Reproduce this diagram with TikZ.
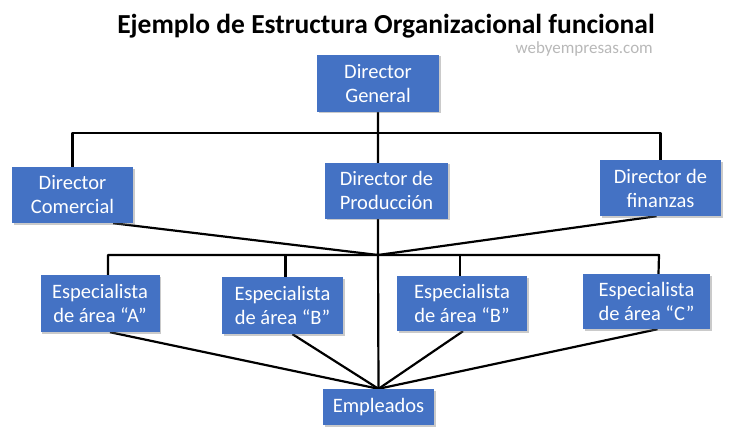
\documentclass[tikz,border=0pt]{standalone}
\usepackage{fontspec}
\setmainfont{Carlito}
\usetikzlibrary{shadows,backgrounds}
\definecolor{boxblue}{HTML}{4472C4}
\tikzset{
  orgbox/.style={rectangle, fill=boxblue, text=white, align=center, inner sep=2pt,
    font=\fontsize{20.5}{24}\selectfont,
    drop shadow={shadow xshift=1.5pt, shadow yshift=-1.5pt, opacity=0.35, fill=black!60}},
  link/.style={draw=black, line width=2.2pt, line join=round}
}
\begin{document}
\begin{tikzpicture}[x=1pt,y=-1pt]
\useasboundingbox (0,0) rectangle (738,433);
\node[anchor=base, font=\fontsize{27.5}{32}\selectfont\bfseries, inner sep=0pt] (title) at (386,34) {Ejemplo de Estructura Organizacional funcional};
\node[anchor=base east, text=black!28, font=\fontsize{17}{19}\selectfont, inner sep=0pt] (wm) at (653,54) {webyempresas.com};

\node[orgbox, minimum width=122, minimum height=57] (dg) at (378,83.5) {Director\\General};
\node[orgbox, minimum width=121, minimum height=56] (com) at (72.5,195) {Director\\Comercial};
\node[orgbox, minimum width=123, minimum height=56] (prod) at (386.5,190.5) {Director de\\Producción};
\node[orgbox, minimum width=121, minimum height=56] (fin) at (660.5,188) {Director de\\finanzas};
\node[orgbox, minimum width=119, minimum height=57] (escA) at (100,303.5) {Especialista\\de área “A”};
\node[orgbox, minimum width=121, minimum height=57] (escB) at (282.5,305.5) {Especialista\\de área “B”};
\node[orgbox, minimum width=130, minimum height=55] (escBB) at (462,303.5) {Especialista\\de área “B”};
\node[orgbox, minimum width=127, minimum height=55] (escC) at (646.5,301.5) {Especialista\\de área “C”};
\node[orgbox, minimum width=111, minimum height=36] (emp) at (378.5,407) {Empleados};

\coordinate (j1) at (378,133);
\coordinate (j2) at (378,255);
\coordinate (busR) at (659,255);

\begin{pgfonlayer}{background}
\draw[link] (dg.south) -- (j1) -- (j2) -- (emp.north);
\draw[link] (com.north) |- (j1) -| (fin.north);
\draw[link] ([xshift=-20]com.south east) -- (j2) -- ([xshift=-4]fin.south);
\draw[link] ([xshift=8]escA.north) |- (busR) -- ([xshift=12]escC.north);
\draw[link] ([xshift=3]escB.north) |- (j2);
\draw[link] ([xshift=-2]escBB.north) |- (j2);
\draw[link] ([xshift=10]escA.south) -- (emp.north);
\draw[link] ([xshift=10]escB.south) -- (emp.north);
\draw[link] ([xshift=1]escBB.south) -- (emp.north);
\draw[link] ([xshift=11]escC.south) -- (emp.north);
\end{pgfonlayer}
\end{tikzpicture}
\end{document}
